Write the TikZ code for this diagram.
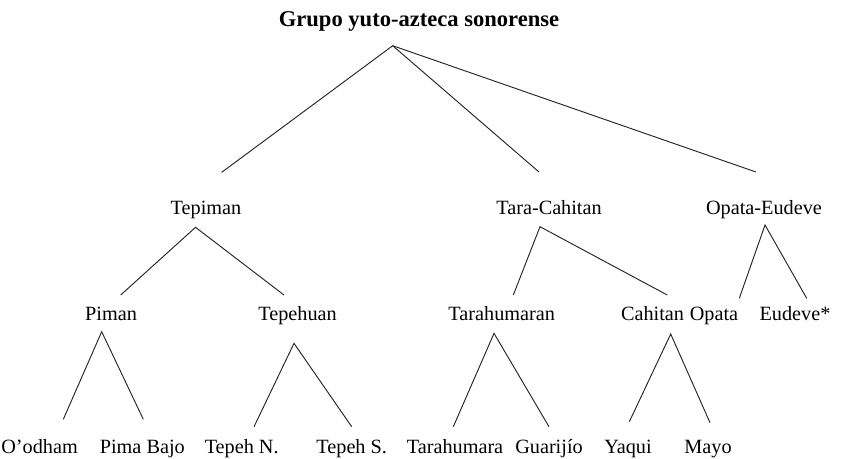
\documentclass[tikz,border=0pt]{standalone}
\usepackage{fontspec}
\setmainfont{Liberation Serif}
\usepackage{tikz}

\begin{document}
\begin{tikzpicture}[lbl/.style={anchor=base,inner sep=0pt,font=\fontsize{19.2}{23}\selectfont},
                    link/.style={line width=0.9pt,draw=black!85}]
    \useasboundingbox (0,0) rectangle (28.233,15.267);

    % Title
    \node[lbl,font=\fontsize{21.4}{25}\selectfont\bfseries] (root) at (13.967,14.367) {Grupo yuto-azteca sonorense};

    % Branches
    \node[lbl] (tepiman) at (6.867,8.133) {Tepiman};
    \node[lbl] (taracahitan) at (18.3,8.133) {Tara-Cahitan};
    \node[lbl] (opataeudeve) at (25.467,8.133) {Opata-Eudeve};

    % Subgroups
    \node[lbl] (piman) at (3.7,4.577) {Piman};
    \node[lbl] (tepehuan) at (9.917,4.577) {Tepehuan};
    \node[lbl] (tarahumaran) at (16.723,4.577) {Tarahumaran};
    \node[lbl] (cahitan) at (21.75,4.577) {Cahitan};
    \node[lbl] (opata) at (23.8,4.577) {Opata};
    \node[lbl] (eudeve) at (26.5,4.577) {Eudeve*};

    % Languages
    \node[lbl] (odham) at (1.32,0.157) {O'odham};
    \node[lbl] (pimabajo) at (4.743,0.157) {Pima Bajo};
    \node[lbl] (tepehn) at (8.057,0.157) {Tepeh N.};
    \node[lbl] (tepehs) at (11.723,0.157) {Tepeh S.};
    \node[lbl] (tarahumara) at (15.167,0.157) {Tarahumara};
    \node[lbl] (guarijio) at (18.3,0.157) {Guarijío};
    \node[lbl] (yaqui) at (20.933,0.157) {Yaqui};
    \node[lbl] (mayo) at (23.6,0.157) {Mayo};

    % Joints below each group
    \coordinate (root-b) at (13.09,13.743);
    \coordinate (tepiman-b) at (6.517,7.69);
    \coordinate (taracahitan-b) at (18.0,7.71);
    \coordinate (opataeudeve-b) at (25.5,7.767);
    \coordinate (piman-b) at (3.39,4.21);
    \coordinate (tepehuan-b) at (9.8,3.823);
    \coordinate (tarahumaran-b) at (16.467,4.157);
    \coordinate (cahitan-b) at (22.357,4.133);

    % Line ends above each member
    \coordinate (tepiman-t) at (7.39,9.523);
    \coordinate (taracahitan-t) at (17.967,9.533);
    \coordinate (opataeudeve-t) at (25.2,9.533);
    \coordinate (piman-t) at (4.023,5.433);
    \coordinate (tepehuan-t) at (9.467,5.433);
    \coordinate (tarahumaran-t) at (17.11,5.433);
    \coordinate (cahitan-t) at (22.243,5.433);
    \coordinate (opata-t) at (24.643,5.323);
    \coordinate (eudeve-t) at (26.89,5.323);
    \coordinate (odham-t) at (2.11,1.29);
    \coordinate (pimabajo-t) at (4.777,1.29);
    \coordinate (tepehn-t) at (8.467,1.043);
    \coordinate (tepehs-t) at (11.723,1.043);
    \coordinate (tarahumara-t) at (15.11,1.043);
    \coordinate (guarijio-t) at (18.3,1.043);
    \coordinate (yaqui-t) at (20.977,1.21);
    \coordinate (mayo-t) at (23.667,1.177);

    % Tree lines
    \draw[link] (tepiman-t) -- (root-b) -- (taracahitan-t);
    \draw[link] (root-b) -- (opataeudeve-t);
    \draw[link] (piman-t) -- (tepiman-b) -- (tepehuan-t);
    \draw[link] (tarahumaran-t) -- (taracahitan-b) -- (cahitan-t);
    \draw[link] (opata-t) -- (opataeudeve-b) -- (eudeve-t);
    \draw[link] (odham-t) -- (piman-b) -- (pimabajo-t);
    \draw[link] (tepehn-t) -- (tepehuan-b) -- (tepehs-t);
    \draw[link] (tarahumara-t) -- (tarahumaran-b) -- (guarijio-t);
    \draw[link] (yaqui-t) -- (cahitan-b) -- (mayo-t);
\end{tikzpicture}
\end{document}
